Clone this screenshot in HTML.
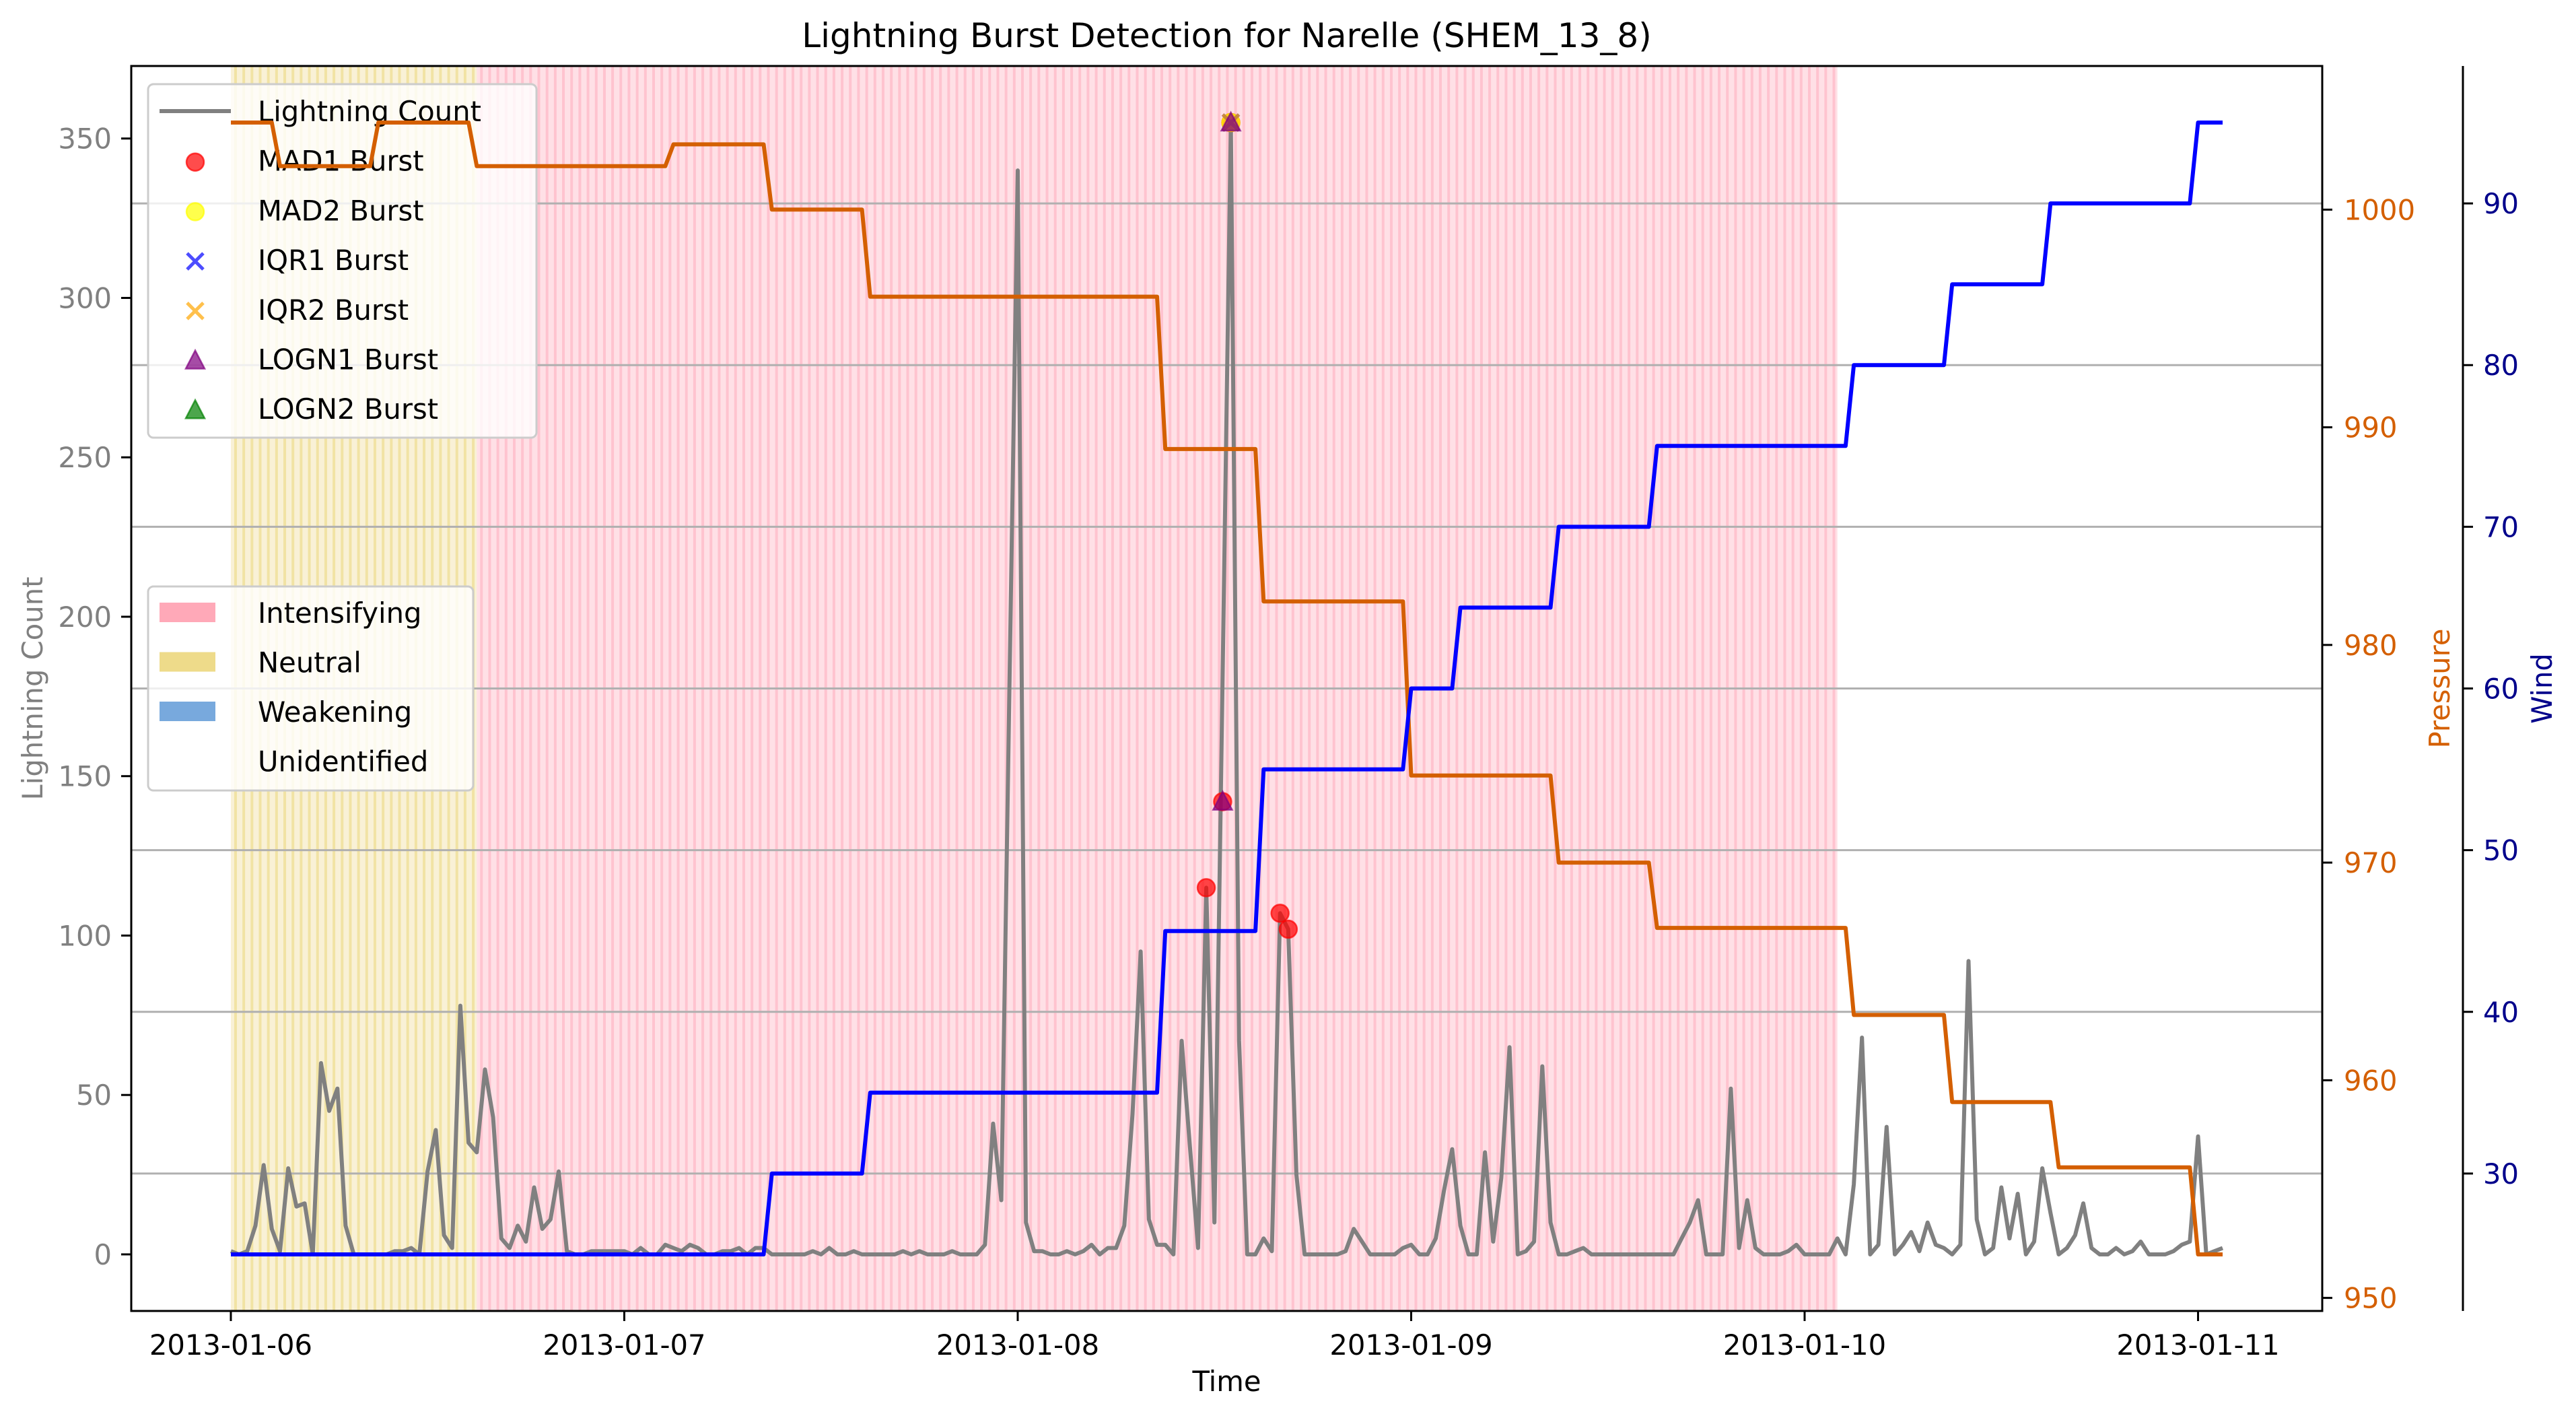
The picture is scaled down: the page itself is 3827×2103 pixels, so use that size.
<!DOCTYPE html>
<html><head><meta charset="utf-8"><style>
html,body{margin:0;padding:0;background:#fff;}
svg{display:block;font-family:"DejaVu Sans","Liberation Sans",sans-serif;}
</style></head><body>
<svg id="chart" width="3827" height="2103" viewBox="0 0 3827 2103" xmlns="http://www.w3.org/2000/svg">
<rect width="3827" height="2103" fill="#fff"/>
<g id="bg"></g><g id="grid"></g><g id="leg1"></g><g id="series"></g><g id="marks"></g><g id="axes"></g><g id="legends"></g>
</svg>
<script>
const lightning=[1,0,1,9,28,8,1,27,15,16,0,60,45,52,9,0,0,0,0,0,1,1,2,0,26,39,6,2,78,35,32,58,43,5,2,9,4,21,8,11,26,1,0,0,1,1,1,1,1,0,2,0,0,3,2,1,3,2,0,0,1,1,2,0,2,2,0,0,0,0,0,1,0,2,0,0,1,0,0,0,0,0,1,0,1,0,0,0,1,0,0,0,3,41,17,180,340,10,1,1,0,0,1,0,1,3,0,2,2,9,44,95,11,3,3,0,67,34,2,115,10,182,355,67,0,0,5,1,107,102,25,0,0,0,0,0,1,8,4,0,0,0,0,2,3,0,0,5,20,33,9,0,0,32,4,24,65,0,1,4,59,10,0,0,1,2,0,0,0,0,0,0,0,0,0,0,0,5,10,17,0,0,0,52,2,17,2,0,0,0,1,3,0,0,0,0,5,0,22,68,0,3,40,0,3,7,1,10,3,2,0,3,92,11,0,2,21,5,19,0,4,27,13,0,2,6,16,2,0,0,2,0,1,4,0,0,0,1,3,4,37,0,1,2];
const pressureStart=[0,6,18,30,54,66,78,114,126,144,162,174,198,210,223,240];
const pressureLevel=[1004,1002,1004,1002,1003,1000,996,989,982,974,970,967,963,959,956,952];
const windStart=[0,66,78,114,126,144,150,162,174,198,210,222,240];
const windLevel=[25,30,35,45,55,60,65,70,75,80,85,90,95];
const regionName=["Neutral","Intensifying"];
const regionStart=[0,30];
const regionEnd=[30,196];
const mad1Idx=[119,121,122,128,129], mad1Val=[115,142,355,107,102];
const mad2Idx=[122], mad2Val=[355];
const iqr1Idx=[122], iqr1Val=[355];
const iqr2Idx=[122], iqr2Val=[355];
const logn1Idx=[121,122], logn1Val=[142,355];
const dayLabels=["2013-01-06","2013-01-07","2013-01-08","2013-01-09","2013-01-10","2013-01-11"];
const countTicks=[0,50,100,150,200,250,300,350];
const pressureTicks=[950,960,970,980,990,1000];
const windTicks=[30,40,50,60,70,80,90];

const L=195,R=3450,T=98,B=1947,WX=3659;
const N=lightning.length-1;
const xMin=-N*0.05,xMax=N*1.05;
const X=i=>L+(i-xMin)/(xMax-xMin)*(R-L);
const cMin=-355*0.05,cMax=355*1.05;
const YC=v=>B-(v-cMin)/(cMax-cMin)*(B-T);
const pMin=952-52*0.05,pMax=1004+52*0.05;
const YP=v=>B-(v-pMin)/(pMax-pMin)*(B-T);
const wMin=25-70*0.05,wMax=95+70*0.05;
const YW=v=>B-(v-wMin)/(wMax-wMin)*(B-T);
const NS="http://www.w3.org/2000/svg";
function mk(tag,attrs,parent,text){const e=document.createElementNS(NS,tag);for(const k in attrs)e.setAttribute(k,attrs[k]);if(text!==undefined)e.textContent=text;parent.appendChild(e);return e;}
const gBg=document.getElementById('bg'),gGrid=document.getElementById('grid'),gS=document.getElementById('series'),gM=document.getElementById('marks'),gA=document.getElementById('axes'),gL=document.getElementById('legends'),gL1=document.getElementById('leg1');

const regFill={Neutral:"#f9f1d6",Intensifying:"#ffe0e6"};
const regLine={Neutral:"#f1e3a4",Intensifying:"#ffc3cf"};
for(let r=0;r<regionName.length;r++){
  const g=mk('g',{},gBg);
  
  
  mk('rect',{x:X(regionStart[r]),y:T,width:X(regionEnd[r])-X(regionStart[r]),height:B-T,fill:regFill[regionName[r]]},g);
  for(let i=regionStart[r];i<regionEnd[r];i++){
    mk('rect',{x:X(i)+5,y:T,width:4,height:B-T,fill:regLine[regionName[r]]},g);
  }
}
for(const w of windTicks){
  const l=mk('line',{x1:L,x2:R,y1:YW(w),y2:YW(w),stroke:"#b0b0b0","stroke-width":3},gGrid);
  
  
}
let d="";lightning.forEach((v,i)=>{d+=(i?"L":"M")+X(i).toFixed(1)+","+YC(v).toFixed(1);});
const lp=mk('path',{d:d,fill:"none",stroke:"#808080","stroke-width":6,"stroke-linejoin":"round"},gS);


function stepPath(starts,levels,Y){
  let s="";
  for(let k=0;k<levels.length;k++){
    const a=starts[k],b=(k+1<starts.length)?starts[k+1]-1:N;
    s+=(k?"L":"M")+X(a).toFixed(1)+","+Y(levels[k]).toFixed(1)+"L"+X(b).toFixed(1)+","+Y(levels[k]).toFixed(1);
  }
  return s;
}
const pp=mk('path',{d:stepPath(pressureStart,pressureLevel,YP),fill:"none",stroke:"#d45f00","stroke-width":6,"stroke-linejoin":"round"},gS);


const wp=mk('path',{d:stepPath(windStart,windLevel,YW),fill:"none",stroke:"#0000ff","stroke-width":6,"stroke-linejoin":"round"},gS);



function circle(g,cx,cy,fill,edge){mk('circle',{cx:cx,cy:cy,r:13,fill:fill,"fill-opacity":0.7,stroke:edge,"stroke-opacity":0.7,"stroke-width":2.5},g);}
function cross(g,cx,cy,col){mk('path',{d:`M${cx-12},${cy-12}L${cx+12},${cy+12}M${cx-12},${cy+12}L${cx+12},${cy-12}`,stroke:col,"stroke-width":5,"stroke-opacity":0.7},g);}
function tri(g,cx,cy,fill,edge){mk('path',{d:`M${cx},${cy-15}L${cx+14},${cy+12}L${cx-14},${cy+12}Z`,fill:fill,"fill-opacity":0.7,stroke:edge,"stroke-opacity":0.7,"stroke-width":2.5},g);}
function series(idx,val,name,fn){
  idx.forEach((i,k)=>{const g=mk('g',{},gM);
    
    
    fn(g,X(i),YC(val[k]));});
}
series(mad1Idx,mad1Val,'mad1-burst',(g,x,y)=>circle(g,x,y,"#ff0000","#ff0000"));
series(mad2Idx,mad2Val,'mad2-burst',(g,x,y)=>circle(g,x,y,"#ffff00","#ffff00"));
series(iqr1Idx,iqr1Val,'iqr1-burst',(g,x,y)=>cross(g,x,y,"#0000ff"));
series(iqr2Idx,iqr2Val,'iqr2-burst',(g,x,y)=>cross(g,x,y,"#ffa500"));
series(logn1Idx,logn1Val,'logn1-burst',(g,x,y)=>tri(g,x,y,"#800080","#800080"));

const F=41.7;
const box=mk('path',{d:`M${L},${T}L${R},${T}L${R},${B}L${L},${B}Z`,fill:"none",stroke:"#000","stroke-width":3},gA);


const ws=mk('line',{x1:WX,x2:WX,y1:T,y2:B,stroke:"#000","stroke-width":3},gA);


dayLabels.forEach((lab,k)=>{const x=X(k*48);
  mk('line',{x1:x,x2:x,y1:B,y2:B+15,stroke:"#000","stroke-width":3},gA);
  const t=mk('text',{x:x,y:2012,"font-size":F,"text-anchor":"middle",fill:"#000"},gA,lab);
  
  
});
countTicks.forEach(v=>{const y=YC(v);
  mk('line',{x1:L-15,x2:L,y1:y,y2:y,stroke:"#000","stroke-width":3},gA);
  const t=mk('text',{x:166,y:y+15,"font-size":F,"text-anchor":"end",fill:"#808080"},gA,String(v));
  
  
});
pressureTicks.forEach(v=>{const y=YP(v);
  mk('line',{x1:R,x2:R+15,y1:y,y2:y,stroke:"#000","stroke-width":3},gA);
  const t=mk('text',{x:3482,y:y+15,"font-size":F,fill:"#d45f00"},gA,String(v));
  
  
});
windTicks.forEach(v=>{const y=YW(v);
  mk('line',{x1:WX,x2:WX+15,y1:y,y2:y,stroke:"#000","stroke-width":3},gA);
  const t=mk('text',{x:3689,y:y+15,"font-size":F,fill:"#00008b"},gA,String(v));
  
  
});
const title=mk('text',{x:(L+R)/2,y:70,"font-size":50,"text-anchor":"middle",fill:"#000"},gA,"Lightning Burst Detection for Narelle (SHEM_13_8)");


const xl=mk('text',{x:(L+R)/2,y:2066,"font-size":F,"text-anchor":"middle",fill:"#000"},gA,"Time");


const yl=mk('text',{x:0,y:0,"font-size":F,"text-anchor":"middle",fill:"#808080",transform:`translate(63,${(T+B)/2}) rotate(-90)`},gA,"Lightning Count");


const pl=mk('text',{x:0,y:0,"font-size":F,"text-anchor":"middle",fill:"#d45f00",transform:`translate(3639,${(T+B)/2}) rotate(-90)`},gA,"Pressure");


const wl=mk('text',{x:0,y:0,"font-size":F,"text-anchor":"middle",fill:"#00008b",transform:`translate(3791,${(T+B)/2}) rotate(-90)`},gA,"Wind");



const lg1=mk('g',{},gL1);


mk('rect',{x:220,y:125,width:577,height:525,rx:8,fill:"#fff","fill-opacity":0.8,stroke:"#cccccc","stroke-width":3},lg1);
const rows1=["Lightning Count","MAD1 Burst","MAD2 Burst","IQR1 Burst","IQR2 Burst","LOGN1 Burst","LOGN2 Burst"];
rows1.forEach((lab,k)=>{const y=165+k*73.7;
  const e=mk('g',{},lg1);
  
  
  if(k===0)mk('line',{x1:237,x2:343,y1:y,y2:y,stroke:"#808080","stroke-width":6},e);
  if(k===1)circle(e,290,y+2,"#ff0000","#ff0000");
  if(k===2)circle(e,290,y+2,"#ffff00","#ffff00");
  if(k===3)cross(e,290,y+2,"#0000ff");
  if(k===4)cross(e,290,y+2,"#ffa500");
  if(k===5)tri(e,290,y+2,"#800080","#800080");
  if(k===6)tri(e,290,y+2,"#008000","#008000");
  mk('text',{x:383,y:y+15,"font-size":F,fill:"#000"},e,lab);
});
const lg2=mk('g',{},gL);


mk('rect',{x:220,y:871,width:483,height:303,rx:8,fill:"#fff","fill-opacity":0.8,stroke:"#cccccc","stroke-width":3},lg2);
const rows2=["Intensifying","Neutral","Weakening","Unidentified"];
const cols2=["#ffa9b8","#eedb8a","#78a9dd","none"];
rows2.forEach((lab,k)=>{const y=910+k*73.5;
  const e=mk('g',{},lg2);
  
  
  mk('rect',{x:237,y:y-15,width:83,height:29,fill:cols2[k]},e);
  mk('text',{x:383,y:y+15,"font-size":F,fill:"#000"},e,lab);
});
</script>
</body></html>
